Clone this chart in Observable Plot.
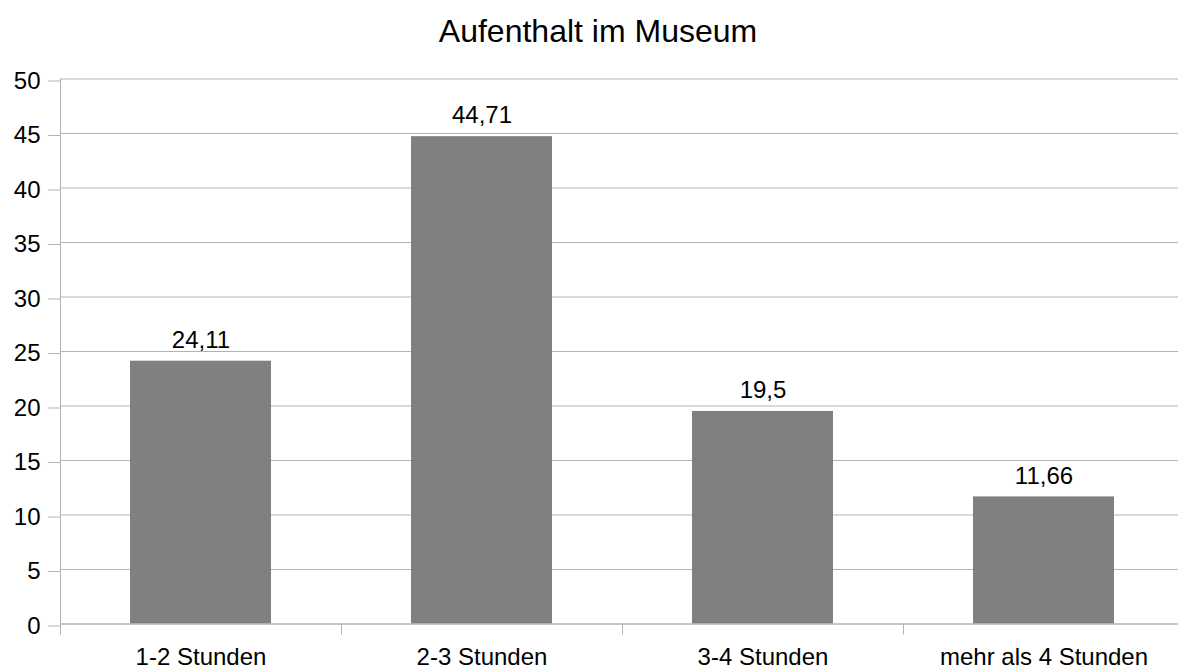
<!DOCTYPE html>
<html lang="de">
<head>
<meta charset="utf-8">
<title>Aufenthalt im Museum</title>
<script src="https://cdn.jsdelivr.net/npm/d3@7"></script>
<script src="https://cdn.jsdelivr.net/npm/@observablehq/plot@0.6"></script>
<style>
  html, body { margin: 0; padding: 0; background: #fff; }
  #wrap { position: relative; width: 1178px; height: 670px; overflow: hidden; }
  #title {
    position: absolute; left: 0; top: 15px; width: 1196px;
    text-align: center; font: 32px/32px "Liberation Sans", Arial, sans-serif; color: #000;
  }
  svg { display: block; }
</style>
</head>
<body>
<div id="wrap">
  <div id="title">Aufenthalt im Museum</div>
  <div id="chart"></div>
</div>
<script>
// Verweildauer der Besucher (Anteile in Prozent)
const categories = ["1-2 Stunden", "2-3 Stunden", "3-4 Stunden", "mehr als 4 Stunden"];
const values = [24.11, 44.71, 19.5, 11.66];
const yTicks = [0, 5, 10, 15, 20, 25, 30, 35, 40, 45, 50];

const data = categories.map((c, i) => ({category: c, value: values[i]}));
const fmt = v => String(v).replace(".", ",");

// Layout of the plotting frame
const width = 1178, height = 670;
const left = 60, right = 1184;           // the last band runs past the page edge
const paddingInner = 0.5, paddingOuter = 0.25;
const step = (right - left) / (categories.length - paddingInner + 2 * paddingOuter);

const grey = "#b3b3b3";
const font = "'Liberation Sans', Arial, sans-serif";

const chart = Plot.plot({
  width, height,
  marginTop: 78.5, marginBottom: 46.5, marginLeft: left, marginRight: 0,
  style: {fontFamily: font, fontSize: "24px", color: "#000", background: "#fff"},
  x: {domain: categories, range: [left, right], paddingInner, paddingOuter, label: null},
  y: {domain: [0, 50], ticks: yTicks, label: null},
  marks: [
    Plot.gridY(yTicks, {stroke: grey, strokeOpacity: 1, strokeWidth: 1}),
    Plot.axisY(yTicks, {
      tickSize: 12, tickPadding: 8, stroke: grey, strokeOpacity: 1,
      fontSize: 24, dy: 2, label: null, tickFormat: d => String(d)
    }),
    // left axis line
    Plot.ruleX([categories[0]], {dx: -step / 2, y1: -1, y2: 50, stroke: grey, strokeWidth: 1}),
    // ticks at the category boundaries
    Plot.ruleX(categories.slice(1), {dx: -step / 2, y1: -1, y2: 0, stroke: grey, strokeWidth: 1}),
    Plot.barY(data, {x: "category", y: "value", fill: "#808080"}),
    Plot.ruleY([0], {stroke: grey, strokeWidth: 1}),
    Plot.text(data, {
      x: "category", y: "value", text: d => fmt(d.value),
      lineAnchor: "middle", dy: -21, fontSize: 24, fill: "#000"
    }),
    Plot.axisX({tickSize: 0, tickPadding: 24, fontSize: 24, label: null})
  ]
});

document.getElementById("chart").append(chart);
</script>
</body>
</html>
